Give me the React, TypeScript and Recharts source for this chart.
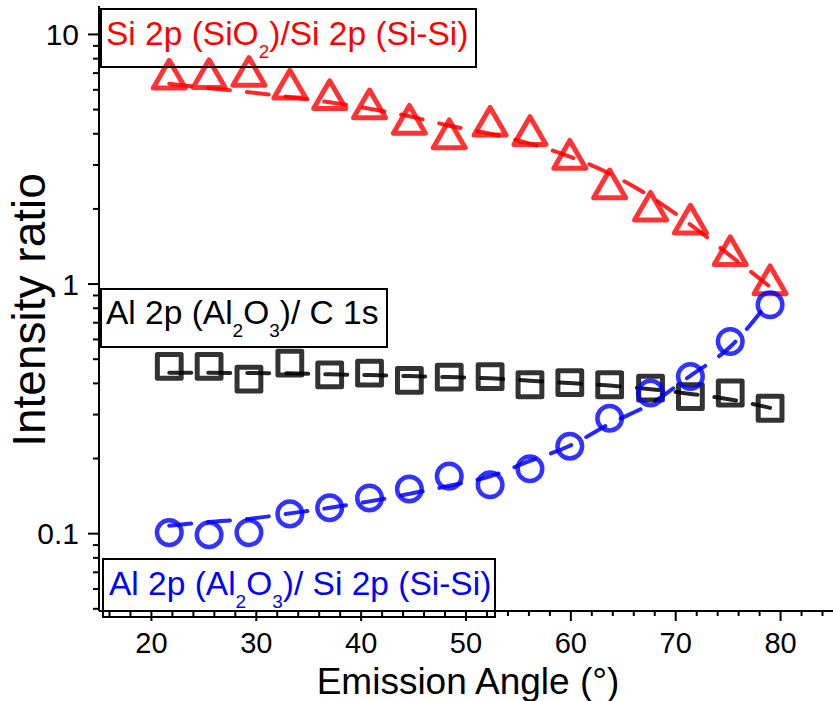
import React from "react";
import { ComposedChart, XAxis, YAxis, Line, Scatter } from "recharts";

// emission angles (deg) of the measured points
const angles = [21.7, 25.5, 29.3, 33.2, 37.0, 40.8, 44.6, 48.4, 52.3, 56.1, 59.9, 63.7, 67.6, 71.4, 75.2, 79.0];

// Si 2p (SiO2) / Si 2p (Si-Si)
const siOxRatio = [6.93, 6.96, 7.11, 6.32, 5.74, 5.27, 4.57, 4.0, 4.49, 4.12, 3.31, 2.52, 2.05, 1.82, 1.36, 1.04];
const siOxFit = [6.35, 6.09, 5.87, 5.61, 5.35, 5.04, 4.7, 4.31, 4.0, 3.65, 3.24, 2.77, 2.24, 1.73, 1.3, 0.975];

// Al 2p (Al2O3) / C 1s
const alCRatio = [0.468, 0.468, 0.416, 0.482, 0.433, 0.44, 0.411, 0.424, 0.426, 0.395, 0.403, 0.395, 0.383, 0.354, 0.366, 0.318];
const alCFit = [0.441, 0.441, 0.44, 0.439, 0.435, 0.432, 0.428, 0.424, 0.419, 0.41, 0.401, 0.392, 0.379, 0.363, 0.345, 0.319];

// Al 2p (Al2O3) / Si 2p (Si-Si)
const alSiRatio = [0.101, 0.099, 0.101, 0.12, 0.127, 0.139, 0.151, 0.17, 0.157, 0.182, 0.224, 0.29, 0.366, 0.426, 0.589, 0.826];
const alSiFit = [0.1075, 0.1115, 0.1146, 0.1206, 0.1269, 0.1347, 0.1444, 0.1555, 0.1697, 0.1957, 0.2249, 0.2756, 0.3313, 0.429, 0.5607, 0.865];

const xTicks = [16, 18, 20, 22, 24, 26, 28, 30, 32, 34, 36, 38, 40, 42, 44, 46, 48, 50, 52, 54, 56, 58, 60, 62, 64, 66, 68, 70, 72, 74, 76, 78, 80, 82, 84];
const xMajor = [20, 30, 40, 50, 60, 70, 80];
const yTicks = [
  0.05, 0.06, 0.07, 0.08, 0.09, 0.1, 0.2, 0.3, 0.4, 0.5, 0.6, 0.7, 0.8, 0.9,
  1, 2, 3, 4, 5, 6, 7, 8, 9, 10,
];
const yMajor = [0.1, 1, 10];

// label texts: [text, subscript?]
const siOxLabel: [string, boolean][] = [["Si 2p (SiO", false], ["2", true], [")/Si 2p (Si-Si)", false]];
const alCLabel: [string, boolean][] = [["Al 2p (Al", false], ["2", true], ["O", false], ["3", true], [")/ C 1s", false]];
const alSiLabel: [string, boolean][] = [["Al 2p (Al", false], ["2", true], ["O", false], ["3", true], [")/ Si 2p (Si-Si)", false]];

const FONT = "'Liberation Sans', Arial, sans-serif";
const RED = "rgba(255,0,0,0.8)";
const BLACK = "rgba(0,0,0,0.8)";
const BLUE = "rgba(0,0,255,0.8)";

const data = angles.map((x, i) => ({
  x,
  siOx: siOxRatio[i],
  siOxFit: siOxFit[i],
  alC: alCRatio[i],
  alCFit: alCFit[i],
  alSi: alSiRatio[i],
  alSiFit: alSiFit[i],
}));

function XTick(props: any) {
  const { x, y, payload } = props;
  const major = xMajor.includes(payload.value);
  return (
    <g>
      <line x1={x} x2={x} y1={y} y2={y + (major ? 10 : 5)} stroke="#000" strokeWidth={2} />
      {major && (
        <text x={x} y={y + 42} textAnchor="middle" fontSize={29} fontFamily={FONT} fill="#000">
          {payload.value}
        </text>
      )}
    </g>
  );
}

function YTick(props: any) {
  const { x, y, payload } = props;
  const major = yMajor.includes(payload.value);
  return (
    <g>
      <line x1={x - (major ? 11 : 6)} x2={x} y1={y} y2={y} stroke="#000" strokeWidth={2} />
      {major && (
        <text x={x - 20} y={y + 10.5} textAnchor="end" fontSize={30} fontFamily={FONT} fill="#000">
          {String(payload.value)}
        </text>
      )}
    </g>
  );
}

const Triangle = (props: any) => {
  const { cx, cy } = props;
  if (cx == null || cy == null) return null;
  const s = 32;
  const h = s * 0.866;
  return (
    <path
      d={`M${cx},${cy - h / 2} L${cx + s / 2},${cy + h / 2} L${cx - s / 2},${cy + h / 2} Z`}
      fill="none"
      stroke={RED}
      strokeWidth={5}
      strokeLinejoin="round"
    />
  );
};

const Square = (props: any) => {
  const { cx, cy } = props;
  if (cx == null || cy == null) return null;
  return (
    <rect x={cx - 11.9} y={cy - 11.9} width={23.8} height={23.8} fill="none" stroke={BLACK} strokeWidth={5} strokeLinejoin="round" />
  );
};

const Circle = (props: any) => {
  const { cx, cy } = props;
  if (cx == null || cy == null) return null;
  return <circle cx={cx} cy={cy} r={12.3} fill="none" stroke={BLUE} strokeWidth={4.5} />;
};

function LabelBox({ x, y, w, h, color, parts, tx, ty }: any) {
  let prevSub = false;
  return (
    <g>
      <rect x={x} y={y} width={w} height={h} fill="none" stroke="#000" strokeWidth={2} />
      <text x={tx} y={ty} fontSize={33.5} fontFamily={FONT} fill={color}>
        {parts.map(([t, sub]: [string, boolean], i: number) => {
          const dy = sub && !prevSub ? 13 : !sub && prevSub ? -13 : 0;
          prevSub = sub;
          return (
            <tspan key={i} dy={dy} fontSize={sub ? 19 : 33.5}>
              {t}
            </tspan>
          );
        })}
      </text>
    </g>
  );
}

export default function App() {
  return (
    <div style={{ position: "absolute", left: 0, top: 0, width: 833, height: 701, background: "#fff" }}>
      <ComposedChart
        width={833}
        height={701}
        data={data}
        margin={{ top: 6, right: 0, bottom: 0, left: 0 }}
      >
        <XAxis
          type="number"
          dataKey="x"
          domain={[15, 85]}
          ticks={xTicks}
          interval={0}
          allowDataOverflow
          height={90}
          tickSize={0}
          tickMargin={0}
          tickLine={false}
          axisLine={{ stroke: "#000", strokeWidth: 2 }}
          tick={XTick}
        />
        <YAxis
          scale="log"
          domain={[0.049, 13]}
          ticks={yTicks}
          interval={0}
          allowDataOverflow
          width={99}
          tickSize={0}
          tickMargin={0}
          tickLine={false}
          axisLine={{ stroke: "#000", strokeWidth: 2 }}
          tick={YTick}
        />
        <Scatter dataKey="alC" shape={Square} isAnimationActive={false} />
        <Line
          type="monotone"
          dataKey="alCFit"
          stroke="rgba(0,0,0,0.85)"
          strokeWidth={4}
          strokeDasharray="22 17"
          strokeLinecap="round"
          dot={false}
          isAnimationActive={false}
        />
        <Scatter dataKey="siOx" shape={Triangle} isAnimationActive={false} />
        <Line
          type="monotone"
          dataKey="siOxFit"
          stroke="rgba(255,0,0,0.85)"
          strokeWidth={4}
          strokeDasharray="22 17"
          strokeLinecap="round"
          dot={false}
          isAnimationActive={false}
        />
        <Scatter dataKey="alSi" shape={Circle} isAnimationActive={false} />
        <Line
          type="monotone"
          dataKey="alSiFit"
          stroke="rgba(0,0,255,0.85)"
          strokeWidth={4}
          strokeDasharray="22 17"
          strokeLinecap="round"
          dot={false}
          isAnimationActive={false}
        />
      </ComposedChart>
      <svg
        width={833}
        height={701}
        style={{ position: "absolute", left: 0, top: 0, pointerEvents: "none" }}
      >
        <text
          x={0}
          y={0}
          transform="translate(45,310) rotate(-90)"
          textAnchor="middle"
          fontSize={46}
          fontFamily={FONT}
          fill="#000"
        >
          Intensity ratio
        </text>
        <text x={468} y={694} textAnchor="middle" fontSize={37} fontFamily={FONT} fill="#000">
          Emission Angle (°)
        </text>
        <LabelBox x={101} y={9} w={375} h={58} tx={106} ty={45} color="#FF0000" parts={siOxLabel} />
        <LabelBox x={101} y={289} w={286} h={58} tx={106} ty={324} color="#000" parts={alCLabel} />
        <LabelBox x={103} y={559} w={392} h={58} tx={109} ty={595} color="#0000FF" parts={alSiLabel} />
      </svg>
    </div>
  );
}
